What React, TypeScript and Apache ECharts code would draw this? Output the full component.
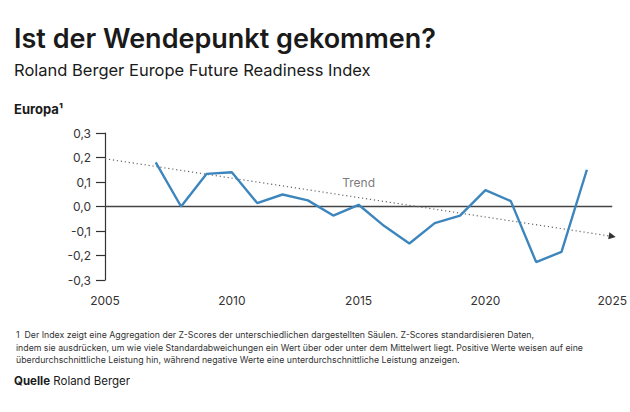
import React, { useEffect, useRef } from "react";
import * as echarts from "echarts";

const years = [2007, 2008, 2009, 2010, 2011, 2012, 2013, 2014, 2015, 2016, 2017, 2018, 2019, 2020, 2021, 2022, 2023, 2024];
const indexValues = [0.18, 0.0, 0.133, 0.14, 0.014, 0.049, 0.025, -0.037, 0.007, -0.079, -0.151, -0.068, -0.037, 0.067, 0.022, -0.227, -0.185, 0.15];
const trendStart = [2005, 0.195];
const trendEnd = [2025, -0.122];
const trendLabelPos = [2015, 0.097];

const FONT = "Inter, 'Noto Sans', sans-serif";

export default function App() {
  const ref = useRef<HTMLDivElement>(null);
  useEffect(() => {
    if (!ref.current) return;
    const chart = echarts.init(ref.current, undefined, { renderer: "svg" });
    const data = years.map((y, i) => [y, indexValues[i]]);
    chart.setOption({
      animation: false,
      textStyle: { fontFamily: FONT },
      grid: { left: 105, top: 133, width: 508, height: 147, containLabel: false },
      xAxis: {
        type: "value",
        min: 2005,
        max: 2025,
        interval: 5,
        axisLine: { show: false },
        axisTick: { show: false },
        splitLine: { show: false },
        axisLabel: { color: "#333", fontSize: 12, margin: 14, fontFamily: FONT, formatter: (v: number) => String(v) },
      },
      yAxis: {
        type: "value",
        min: -0.3,
        max: 0.3,
        interval: 0.1,
        axisLine: { show: true, lineStyle: { color: "#333", width: 1.2 } },
        axisTick: { show: true, length: 9, lineStyle: { color: "#333", width: 1.2 } },
        splitLine: { show: false },
        axisLabel: {
          color: "#333",
          fontSize: 12,
          margin: 14,
          fontFamily: FONT,
          formatter: (v: number) => {
            const s = (Math.round(v * 10) / 10).toFixed(1).replace(".", ",");
            return s === "-0,0" ? "0,0" : s;
          },
        },
      },
      series: [
        {
          type: "line",
          data: [
            [trendStart[0], 0],
            [trendEnd[0], 0],
          ],
          symbol: "none",
          lineStyle: { color: "#444", width: 1.4 },
          silent: true,
          z: 1,
        },
        {
          type: "line",
          data: [trendStart, trendEnd],
          symbol: "none",
          showSymbol: false,
          lineStyle: { color: "#666", width: 1.2, type: [1.2, 2.8] },
          silent: true,
          z: 2,
          markPoint: {
            symbol: "triangle",
            symbolSize: [7, 7],
            symbolRotate: -100,
            itemStyle: { color: "#333" },
            label: { show: false },
            data: [{ coord: trendEnd }],
          },
        },
        {
          type: "scatter",
          data: [trendLabelPos],
          symbolSize: 0,
          silent: true,
          label: {
            show: true,
            formatter: "Trend",
            position: "inside",
            color: "#555",
            fontSize: 12,
            fontFamily: FONT,
          },
        },
        {
          type: "line",
          data,
          symbol: "none",
          lineStyle: { color: "#3d86bd", width: 2.4 },
          z: 3,
        },
      ],
      graphic: [
        {
          type: "text",
          left: 14,
          top: 25,
          style: { text: "Ist der Wendepunkt gekommen?", fontSize: 27, fontWeight: 600, fill: "#1a1a1a", fontFamily: FONT },
        },
        {
          type: "text",
          left: 14,
          top: 61,
          style: { text: "Roland Berger Europe Future Readiness Index", fontSize: 16.5, fontWeight: 400, fill: "#1a1a1a", fontFamily: FONT },
        },
        {
          type: "text",
          left: 14,
          top: 102,
          style: { text: "Europa¹", fontSize: 13, fontWeight: 700, fill: "#1a1a1a", fontFamily: FONT },
        },
        {
          type: "text",
          left: 16,
          top: 329,
          style: {
            text:
              "1  Der Index zeigt eine Aggregation der Z-Scores der unterschiedlichen dargestellten Säulen. Z-Scores standardisieren Daten,\nindem sie ausdrücken, um wie viele Standardabweichungen ein Wert über oder unter dem Mittelwert liegt. Positive Werte weisen auf eine\nüberdurchschnittliche Leistung hin, während negative Werte eine unterdurchschnittliche Leistung anzeigen.",
            fontSize: 8.75,
            lineHeight: 12.5,
            fill: "#333",
            fontFamily: FONT,
          },
        },
        {
          type: "text",
          left: 14,
          top: 375,
          style: {
            text: "{b|Quelle} Roland Berger",
            fontSize: 11.5,
            fill: "#1a1a1a",
            fontFamily: FONT,
            rich: { b: { fontWeight: 700, fontSize: 11.5, fill: "#1a1a1a", fontFamily: FONT } },
          },
        },
      ],
    });
    return () => chart.dispose();
  }, []);
  return <div ref={ref} style={{ position: "absolute", left: 0, top: 0, width: 630, height: 412 }} />;
}
